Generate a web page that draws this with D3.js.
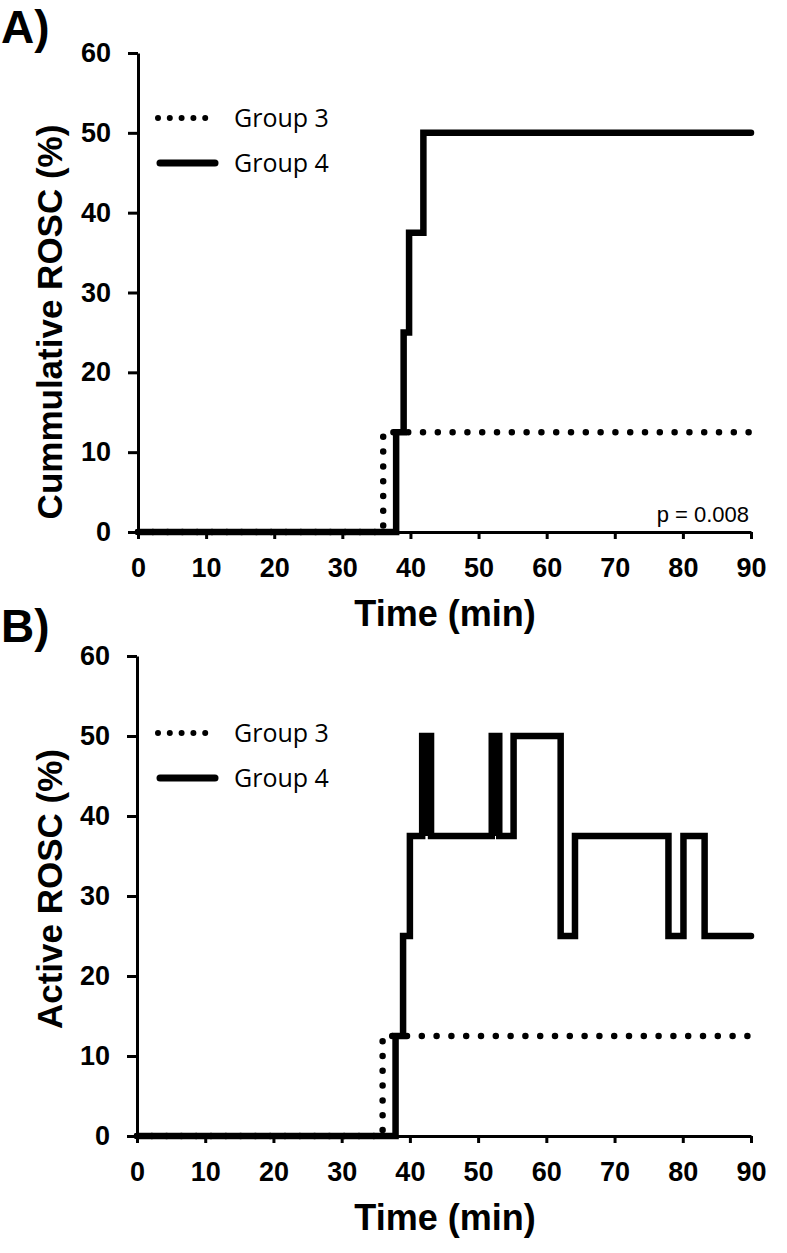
<!DOCTYPE html>
<html>
<head>
<meta charset="utf-8">
<script src="https://cdn.jsdelivr.net/npm/d3@7"></script>
<style>
  html, body { margin: 0; padding: 0; background: #fff; }
  svg { display: block; }
</style>
</head>
<body>
<svg id="chart" width="787" height="1253"></svg>
<script>
// ---------- data ----------
const xTicks = [0, 10, 20, 30, 40, 50, 60, 70, 80, 90];
const yTicks = [0, 10, 20, 30, 40, 50, 60];
const seriesNames = ["Group 3", "Group 4"];

// Panel A: cumulative ROSC (%)
const cumG3Time  = [0, 36, 90];
const cumG3Value = [0, 12.5, 12.5];
const cumG4Time  = [0, 37.9, 39.0, 39.8, 41.9, 90];
const cumG4Value = [0, 12.5, 25, 37.5, 50, 50];

// Panel B: active ROSC (%)
const actG3Time  = [0, 36, 90];
const actG3Value = [0, 12.5, 12.5];
const actG4Time  = [0, 37.9, 39.0, 40.0, 41.8, 42.25, 42.25, 42.7, 42.7, 43.1, 52.0, 52.55, 52.55, 53.1, 55.2, 62.1, 64.2, 77.9, 80.1, 83.2, 90];
const actG4Value = [0, 12.5, 25, 37.5, 50, 37.5, 50, 37.5, 50, 37.5, 50, 37.5, 50, 37.5, 50, 25, 37.5, 25, 37.5, 25, 25];

const pValueText = "p = 0.008";

// ---------- drawing ----------
const svg = d3.select("#chart");
svg.append("rect").attr("width", 787).attr("height", 1253).attr("fill", "#fff");

const boldFont = "'Liberation Sans', Arial, sans-serif";
const legendFont = "'Open Sans', 'Noto Sans', sans-serif";

function zip(t, v) { return t.map((d, i) => ({ t: d, v: v[i] })); }

function panel(opts) {
  const x = d3.scaleLinear().domain([0, 90]).range([opts.x0, 751]);
  const y = d3.scaleLinear().domain([0, 60]).range([opts.y0, opts.y60]);
  const g = svg.append("g");

  const line = d3.line().x(d => x(d.t)).y(d => y(d.v)).curve(d3.curveStepAfter);

  // axes
  const xAxis = d3.axisBottom(x).tickValues(xTicks).tickSize(7).tickSizeOuter(0).tickPadding(19);
  const yAxis = d3.axisLeft(y).tickValues(yTicks).tickSize(10).tickSizeOuter(0).tickPadding(17);

  const gx = g.append("g").attr("transform", `translate(0,${opts.y0})`).call(xAxis);
  const gy = g.append("g").attr("transform", `translate(${opts.x0},0)`).call(yAxis);
  [gx, gy].forEach(a => {
    a.selectAll("path.domain").attr("stroke", "#000").attr("stroke-width", 3);
    a.selectAll(".tick line").attr("stroke", "#000").attr("stroke-width", 3);
    a.selectAll(".tick text").attr("fill", "#000")
      .style("font-family", boldFont).style("font-weight", "bold").style("font-size", "27px");
  });

  g.append("path").datum(zip(opts.g3t, opts.g3v))
    .attr("d", line).attr("fill", "none").attr("stroke", "#000")
    .attr("stroke-width", 6.5).attr("stroke-linecap", "round")
    .attr("stroke-dasharray", "0 14.8");

  g.append("path").datum(zip(opts.g4t, opts.g4v))
    .attr("d", line).attr("fill", "none").attr("stroke", "#000")
    .attr("stroke-width", 6.5).attr("stroke-linecap", "round").attr("stroke-linejoin", "miter");

  // legend
  const ly = opts.legendY;
  g.append("line").attr("x1", 158).attr("x2", 217).attr("y1", ly).attr("y2", ly)
    .attr("stroke", "#000").attr("stroke-width", 6).attr("stroke-linecap", "round")
    .attr("stroke-dasharray", "0 11.8");
  g.append("line").attr("x1", 160).attr("x2", 215).attr("y1", ly + 45).attr("y2", ly + 45)
    .attr("stroke", "#000").attr("stroke-width", 7).attr("stroke-linecap", "round");
  seriesNames.forEach((n, i) => {
    g.append("text").attr("x", 234).attr("y", ly + 9 + i * 45).text(n)
      .style("font-family", legendFont).style("font-size", "25px").attr("fill", "#000");
  });

  // titles
  g.append("text").attr("x", 445).attr("y", opts.y0 + 94).attr("text-anchor", "middle")
    .text("Time (min)")
    .style("font-family", boldFont).style("font-weight", "bold").style("font-size", "36px");
  g.append("text").attr("transform", `translate(62,${opts.yTitleY}) rotate(-90)`)
    .attr("text-anchor", "middle").text(opts.yTitle)
    .style("font-family", boldFont).style("font-weight", "bold").style("font-size", "35px");
  g.append("text").attr("x", 1).attr("y", opts.labelY).text(opts.label)
    .style("font-family", boldFont).style("font-weight", "bold").style("font-size", "46px");
  return { g, x, y };
}

const A = panel({
  x0: 138, y0: 532, y60: 53,
  g3t: cumG3Time, g3v: cumG3Value, g4t: cumG4Time, g4v: cumG4Value,
  legendY: 118, yTitle: "Cummulative ROSC (%)", yTitleY: 322,
  label: "A)", labelY: 43
});
A.g.append("text").attr("x", 749).attr("y", 522).attr("text-anchor", "end")
  .text(pValueText)
  .style("font-family", boldFont).style("font-size", "22px");

const B = panel({
  x0: 137, y0: 1136, y60: 656,
  g3t: actG3Time, g3v: actG3Value, g4t: actG4Time, g4v: actG4Value,
  legendY: 733, yTitle: "Active ROSC (%)", yTitleY: 889,
  label: "B)", labelY: 642
});
</script>
</body>
</html>
